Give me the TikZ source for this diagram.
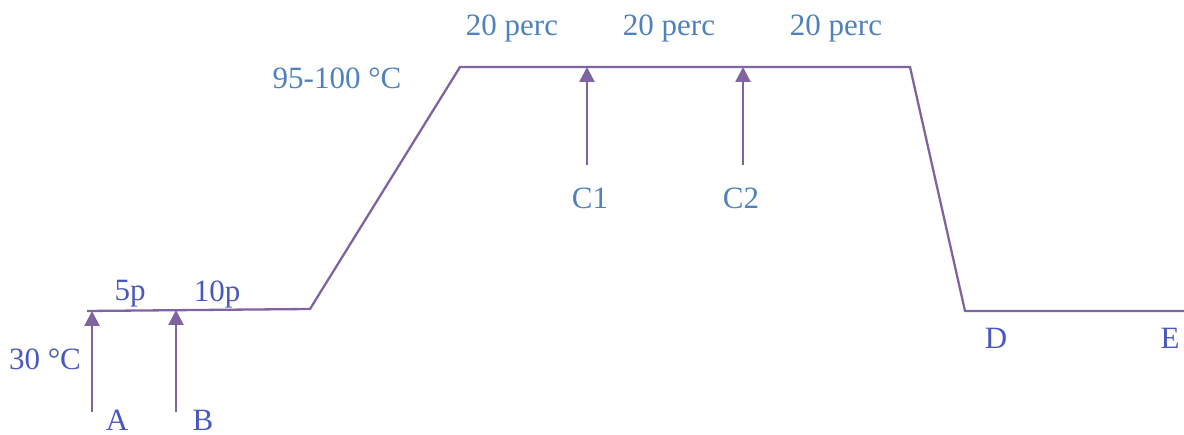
\documentclass[tikz,border=0pt]{standalone}
\usepackage{fontspec}
\setmainfont{Liberation Serif}
\usepackage{xcolor}
\usetikzlibrary{arrows.meta}
\usetikzlibrary{calc}

\definecolor{curve}{HTML}{8064A2}
\definecolor{lowtext}{HTML}{4A58BE}
\definecolor{hightext}{HTML}{4F81BD}

\begin{document}
\begin{tikzpicture}[x=1pt,y=1pt,
    curveline/.style={color=curve, line width=2.3pt, line join=miter},
    feed/.style={color=curve, line width=2.3pt, -{Triangle[width=15pt,length=15pt]}},
    lowlbl/.style={text=lowtext, inner sep=0pt, font=\fontsize{31}{32}\selectfont},
    highlbl/.style={text=hightext, inner sep=0pt, font=\fontsize{31}{32}\selectfont}]

    \useasboundingbox (0,0) rectangle (1184,435);

    \coordinate (start) at (87,124);
    \coordinate (heat) at (310,126);
    \coordinate (topl) at (460,368);
    \coordinate (topr) at (910,368);
    \coordinate (cool) at (965,124);
    \coordinate (stop) at (1184,124);

    \draw[curveline] (start) -- (heat) -- (topl) -- (topr) -- (cool) -- (stop);

    \coordinate (a0) at (92,23);   \coordinate (a1) at (92,124);
    \coordinate (b0) at (176,23);  \coordinate (b1) at (176,125);
    \coordinate (c10) at (587,270); \coordinate (c11) at (587,368);
    \coordinate (c20) at (743,270); \coordinate (c21) at (743,368);

    \draw[feed] (a0) -- (a1);
    \draw[feed] (b0) -- (b1);
    \draw[feed] (c10) -- (c11);
    \draw[feed] (c20) -- (c21);

    \node[lowlbl] (fivep) at (130,141) {5p};
    \node[lowlbl] (tenp) at (217,141) {10p};
    \node[lowlbl] (low) at (45,76) {30 °C};
    \node[lowlbl] (la) at (117,15) {A};
    \node[lowlbl] (lb) at (203,15) {B};
    \node[lowlbl] (ld) at (996,97) {D};
    \node[lowlbl] (le) at (1170,97) {E};

    \node[highlbl] (high) at (337,357) {95-100 °C};
    \foreach \x/\n in {512/p1,669/p2,836/p3}
      \node[highlbl] (\n) at (\x,406) {20 perc};
    \node[highlbl] (lc1) at (590,237) {C1};
    \node[highlbl] (lc2) at (741,237) {C2};
  \end{tikzpicture}
\end{document}
